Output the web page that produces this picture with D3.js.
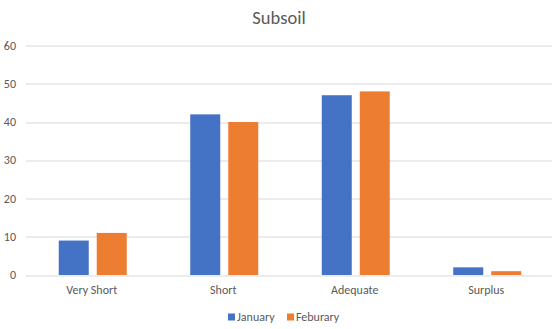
<!DOCTYPE html>
<html>
<head>
<meta charset="utf-8">
<script src="https://cdn.jsdelivr.net/npm/d3@7"></script>
<style>
  body { margin: 0; background: #fff; }
  text { font-family: Calibri, Carlito, "Liberation Sans Narrow", "Open Sans", sans-serif; fill: #595959; }
</style>
</head>
<body>
<div id="chart"></div>
<script>
var categories = ['Very Short', 'Short', 'Adequate', 'Surplus'];
var seriesNames = ['January', 'Feburary'];
var january = [9, 42, 47, 2];
var feburary = [11, 40, 48, 1];
var yTicks = [0, 10, 20, 30, 40, 50, 60];
var colors = ['#4472C4', '#ED7D31'];

var W = 558, H = 329;
var margin = {top: 45.5, right: 6, bottom: 54, left: 26},
    width = W - margin.left - margin.right,
    height = H - margin.top - margin.bottom;

var svg = d3.select('#chart').append('svg')
    .attr('width', W)
    .attr('height', H);

svg.append('text')
    .attr('x', W / 2)
    .attr('y', 24)
    .attr('text-anchor', 'middle')
    .style('font-size', '18.5px')
    .text('Subsoil');

var g = svg.append('g')
    .attr('transform', 'translate(' + margin.left + ',' + margin.top + ')');

var x = d3.scaleBand().domain(categories).range([0, width]);
var x1 = d3.scaleBand().domain(seriesNames).range([0, 68]).paddingInner(8 / 38);
var y = d3.scaleLinear().domain([0, 60]).range([height, 0]);

// gridlines
g.selectAll('.grid')
    .data(yTicks)
  .enter().append('line')
    .attr('x1', 0)
    .attr('x2', width)
    .attr('y1', function(d) { return Math.round(y(d)) + 0.5; })
    .attr('y2', function(d) { return Math.round(y(d)) + 0.5; })
    .attr('stroke', '#d9d9d9')
    .attr('stroke-width', 1);

// y labels
g.selectAll('.ylab')
    .data(yTicks)
  .enter().append('text')
    .attr('x', -10)
    .attr('y', function(d) { return y(d); })
    .attr('dy', '0.35em')
    .attr('text-anchor', 'end')
    .style('font-size', '12px')
    .text(function(d) { return d; });

var rows = categories.map(function(c, i) {
  return {cat: c, vals: [january[i], feburary[i]]};
});

var groups = g.selectAll('.cat')
    .data(rows)
  .enter().append('g')
    .attr('transform', function(d) {
      return 'translate(' + (x(d.cat) + x.bandwidth() / 2 - 33) + ',0)';
    });

groups.selectAll('rect')
    .data(function(d) { return d.vals.map(function(v, j) { return {s: seriesNames[j], v: v, j: j}; }); })
  .enter().append('rect')
    .attr('x', function(d) { return x1(d.s); })
    .attr('width', x1.bandwidth())
    .attr('y', function(d) { return y(d.v); })
    .attr('height', function(d) { return height - y(d.v); })
    .attr('fill', function(d) { return colors[d.j]; });

// x labels
g.selectAll('.xlab')
    .data(categories)
  .enter().append('text')
    .attr('x', function(d) { return x(d) + x.bandwidth() / 2; })
    .attr('y', height + 19)
    .attr('text-anchor', 'middle')
    .style('font-size', '12px')
    .text(function(d) { return d; });

// legend
var legend = svg.append('g').attr('transform', 'translate(228,317)');
var legX = [0, 59];
seriesNames.forEach(function(s, i) {
  legend.append('rect')
      .attr('x', legX[i])
      .attr('y', -3.5)
      .attr('width', 7)
      .attr('height', 7)
      .attr('fill', colors[i]);
  legend.append('text')
      .attr('x', legX[i] + 9)
      .attr('y', 0)
      .attr('dy', '0.35em')
      .style('font-size', '12px')
      .text(s);
});
</script>
</body>
</html>
